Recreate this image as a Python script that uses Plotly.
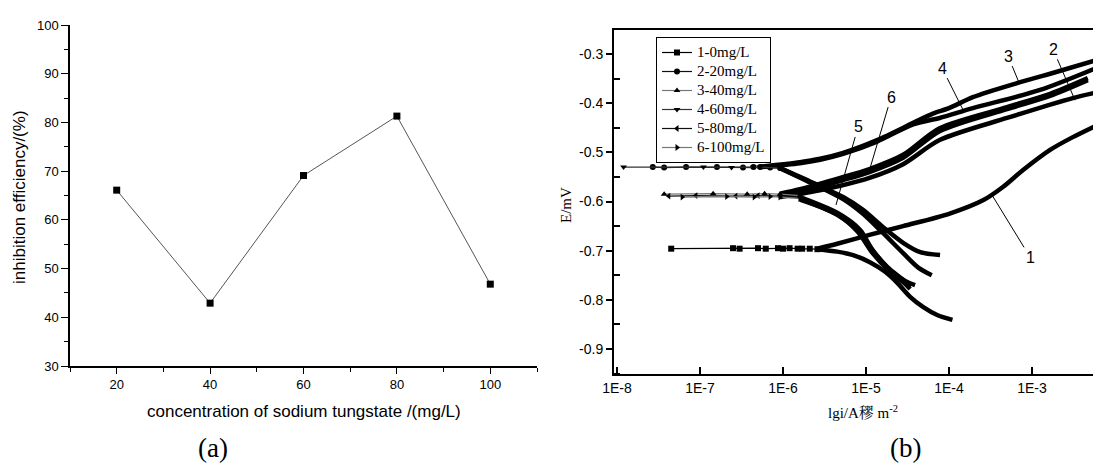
import numpy as np
import plotly.graph_objects as go

# ---------------- (a) inhibition efficiency ----------------
conc = [20, 40, 60, 80, 100]
efficiency = [66.1, 42.9, 69.1, 81.3, 46.8]

# ---------------- (b) polarization curves ----------------
legend_names = ["1-0mg/L", "2-20mg/L", "3-40mg/L", "4-60mg/L", "5-80mg/L", "6-100mg/L"]
marker_symbols = ["square", "circle", "triangle-up", "triangle-down", "triangle-left", "triangle-right"]
legend_line_colors = ["#000000", "#111111", "#777777", "#333333", "#111111", "#777777"]

# curve 1 (0 mg/L)
c1_cat_i = [1.1e-4, 7.2e-5, 4.9e-5, 3.4e-5, 2.4e-5, 1.7e-5, 1.1e-5, 7.0e-6, 4.5e-6, 2.6e-6]
c1_cat_E = [-0.841, -0.831, -0.815, -0.794, -0.766, -0.743, -0.723, -0.709, -0.702, -0.697]
c1_ano_i = [2.6e-6, 4.5e-6, 1.1e-5, 2.8e-5, 1.0e-4, 2.6e-4, 4.5e-4, 7.8e-4, 1.65e-3, 3.1e-3, 6.2e-3]
c1_ano_E = [-0.696, -0.686, -0.668, -0.650, -0.625, -0.597, -0.570, -0.536, -0.495, -0.469, -0.444]
c1_mk_i = [4.5e-8, 2.5e-7, 3.0e-7, 5.0e-7, 6.2e-7, 8.7e-7, 1.0e-6, 1.2e-6, 1.5e-6, 1.7e-6, 2.1e-6, 2.6e-6]
c1_mk_E = [-0.696, -0.695, -0.696, -0.695, -0.696, -0.695, -0.696, -0.695, -0.696, -0.696, -0.696, -0.697]

# curve 2 (20 mg/L)
c2_cat_i = [7.8e-5, 4.5e-5, 2.8e-5, 1.6e-5, 9.2e-6, 5.3e-6, 2.3e-6, 9.2e-7]
c2_cat_E = [-0.709, -0.703, -0.684, -0.652, -0.617, -0.591, -0.562, -0.532]
c2_ano_i = [5.3e-7, 1.6e-6, 2.8e-6, 5.3e-6, 1.36e-5, 3.7e-5, 6.4e-5, 1.0e-4, 1.94e-4, 6.6e-4, 2.0e-3, 6.1e-3]
c2_ano_E = [-0.529, -0.520, -0.513, -0.501, -0.475, -0.440, -0.421, -0.410, -0.3875, -0.359, -0.336, -0.312]
c2_mk_i = [2.7e-8, 3.7e-8, 6.8e-8, 1.6e-7, 3.3e-7, 4.4e-7, 5.3e-7, 7.0e-7, 9.2e-7]
c2_mk_E = [-0.530, -0.531, -0.530, -0.530, -0.531, -0.530, -0.530, -0.531, -0.532]

# curve 3 (40 mg/L)
c3_cat_i = [3.4e-5, 2.8e-5, 1.8e-5, 1.2e-5, 8.5e-6, 4.5e-6, 1.6e-6]
c3_cat_E = [-0.774, -0.760, -0.733, -0.699, -0.658, -0.623, -0.591]
c3_ano_i = [9.2e-7, 1.6e-6, 4.9e-6, 1.1e-5, 2.8e-5, 7.7e-5, 5.0e-4, 1.65e-3, 4.7e-3]
c3_ano_E = [-0.584, -0.575, -0.552, -0.534, -0.505, -0.451, -0.408, -0.381, -0.349]
c3_mk_i = [3.7e-8, 1.44e-7, 3.7e-7, 6.0e-7, 9.2e-7, 1.6e-6]
c3_mk_E = [-0.585, -0.584, -0.585, -0.584, -0.585, -0.588]

# curve 4 (60 mg/L)
c4_cat_i = [6.2e-5, 4.3e-5, 2.8e-5, 1.6e-5, 9.2e-6, 5.3e-6, 2.3e-6, 9.2e-7]
c4_cat_E = [-0.750, -0.735, -0.705, -0.664, -0.625, -0.595, -0.564, -0.532]
c4_ano_i = [5.3e-7, 1.6e-6, 2.8e-6, 5.3e-6, 1.36e-5, 3.7e-5, 7.7e-5, 1.94e-4, 1.25e-3, 6.4e-3]
c4_ano_E = [-0.530, -0.522, -0.515, -0.503, -0.478, -0.443, -0.430, -0.410, -0.373, -0.326]
c4_mk_i = [1.2e-8, 1.1e-7, 2.4e-7, 4.4e-7, 5.3e-7, 9.2e-7]
c4_mk_E = [-0.530, -0.530, -0.531, -0.530, -0.530, -0.532]

# curve 5 (80 mg/L)
c5_cat_i = [3.9e-5, 3.0e-5, 1.9e-5, 1.25e-5, 8.5e-6, 4.5e-6, 1.6e-6]
c5_cat_E = [-0.770, -0.762, -0.738, -0.703, -0.664, -0.627, -0.594]
c5_ano_i = [9.2e-7, 1.6e-6, 4.9e-6, 1.1e-5, 2.8e-5, 7.7e-5, 5.0e-4, 1.65e-3, 4.7e-3]
c5_ano_E = [-0.589, -0.581, -0.558, -0.540, -0.511, -0.457, -0.412, -0.385, -0.353]
c5_mk_i = [4.2e-8, 8.9e-8, 2.7e-7, 5.0e-7, 9.2e-7, 1.6e-6]
c5_mk_E = [-0.589, -0.588, -0.589, -0.588, -0.589, -0.592]

# curve 6 (100 mg/L)
c6_cat_i = [3.4e-5, 2.9e-5, 1.9e-5, 1.2e-5, 8.0e-6, 4.5e-6, 1.6e-6]
c6_cat_E = [-0.778, -0.766, -0.741, -0.705, -0.662, -0.626, -0.596]
c6_ano_i = [9.2e-7, 1.6e-6, 4.9e-6, 1.1e-5, 2.8e-5, 7.7e-5, 5.0e-4, 3.1e-3, 6.4e-3]
c6_ano_E = [-0.591, -0.585, -0.568, -0.552, -0.524, -0.475, -0.430, -0.3895, -0.377]
c6_mk_i = [6.1e-8, 2.1e-7, 4.5e-7, 7.0e-7, 9.2e-7, 1.6e-6]
c6_mk_E = [-0.591, -0.590, -0.591, -0.590, -0.591, -0.594]

# curve labels: text, tip current, tip potential
curve_label_text = ["1", "2", "3", "4", "5", "6"]
curve_label_i = [3.3e-4, 3.3e-3, 7.0e-4, 1.48e-4, 4.35e-6, 1.12e-5]
curve_label_E = [-0.587, -0.394, -0.359, -0.414, -0.607, -0.532]

x_tickvals = [1e-8, 1e-7, 1e-6, 1e-5, 1e-4, 1e-3]
x_ticktext = ["1E-8", "1E-7", "1E-6", "1E-5", "1E-4", "1E-3"]
y_tickvals = [-0.9, -0.8, -0.7, -0.6, -0.5, -0.4, -0.3]
y_ticktext = ["-0.9", "-0.8", "-0.7", "-0.6", "-0.5", "-0.4", "-0.3"]

curves = [
    (c1_cat_i, c1_cat_E, c1_ano_i, c1_ano_E, c1_mk_i, c1_mk_E),
    (c2_cat_i, c2_cat_E, c2_ano_i, c2_ano_E, c2_mk_i, c2_mk_E),
    (c3_cat_i, c3_cat_E, c3_ano_i, c3_ano_E, c3_mk_i, c3_mk_E),
    (c4_cat_i, c4_cat_E, c4_ano_i, c4_ano_E, c4_mk_i, c4_mk_E),
    (c5_cat_i, c5_cat_E, c5_ano_i, c5_ano_E, c5_mk_i, c5_mk_E),
    (c6_cat_i, c6_cat_E, c6_ano_i, c6_ano_E, c6_mk_i, c6_mk_E),
]

SANS = "Arial, Liberation Sans, sans-serif"
SERIF = "Times New Roman, Liberation Serif, Noto Serif CJK SC, Noto Sans CJK SC, serif"

# page offset of the figure inside the browser (default body margin)
OFF = 8
W, H = 1101 - OFF, 465 - OFF


def PX(px):
    return (px - OFF) / W


def PY(py):
    return 1 - (py - OFF) / H


fig = go.Figure()

# (a)
fig.add_trace(go.Scatter(
    x=conc, y=efficiency, mode="lines+markers",
    line=dict(color="#555555", width=1),
    marker=dict(symbol="square", size=7, color="black"),
    showlegend=False, xaxis="x", yaxis="y"))

# (b) thick branches
for k, (ci, cE, ai, aE, mi, mE) in enumerate(curves):
    fig.add_trace(go.Scatter(
        x=list(ci) + [None] + list(ai), y=list(cE) + [None] + list(aE),
        mode="lines", line=dict(color="black", width=4.5, shape="spline", smoothing=0.8),
        connectgaps=False, showlegend=False, hoverinfo="skip",
        xaxis="x2", yaxis="y2"))

# (b) near-Ecorr marker segments (legend entries)
for k, (ci, cE, ai, aE, mi, mE) in enumerate(curves):
    fig.add_trace(go.Scatter(
        x=mi, y=mE, mode="lines+markers",
        name='<span style="font-size:15px">' + legend_names[k] + "</span>",
        line=dict(color=legend_line_colors[k], width=1.2),
        marker=dict(symbol=marker_symbols[k], size=6, color="black"),
        showlegend=True, xaxis="x2", yaxis="y2"))

annotations = []
label_offsets_ax = [38, -22, -11, -21, 22, 21]
label_offsets_ay = [62, -51, -27, -42, -78, -71]
for t, li, lE, ax, ay in zip(curve_label_text, curve_label_i, curve_label_E,
                             label_offsets_ax, label_offsets_ay):
    annotations.append(dict(
        x=np.log10(li), y=lE, xref="x2", yref="y2", text=t,
        showarrow=True, arrowhead=0, arrowwidth=1, arrowcolor="black",
        ax=ax, ay=ay, standoff=0, font=dict(family=SANS, size=16, color="black")))


def label(px, py, text, family, size, angle=0):
    return dict(x=PX(px), y=PY(py), xref="paper", yref="paper", text=text,
                textangle=angle, showarrow=False, xanchor="center", yanchor="middle",
                font=dict(family=family, size=size, color="black"))


annotations += [
    label(19, 197, "inhibition efficiency/(%)", SANS, 17, -90),
    label(304, 411, "concentration of sodium tungstate /(mg/L)", SANS, 17),
    label(566, 205, "E/mV", SERIF, 15, -90),
    label(863, 412, "lgi/A穋 m<sup>-2</sup>", SERIF, 15),
    label(213, 448, "(a)", SERIF, 27),
    label(905, 448, "(b)", SERIF, 27),
]

fig.update_layout(
    width=W, height=H,
    margin=dict(l=0, r=0, t=0, b=0, autoexpand=False),
    paper_bgcolor="white", plot_bgcolor="white",
    showlegend=True,
    legend=dict(x=PX(656), y=PY(37), xanchor="left", yanchor="top",
                bgcolor="white", bordercolor="black", borderwidth=1,
                font=dict(family=SERIF, size=11.2, color="black"),
                tracegroupgap=0, itemwidth=30),
    xaxis=dict(domain=[PX(70), PX(537)], range=[10, 110], anchor="y",
               tick0=20, dtick=20, ticks="outside", ticklen=6, tickwidth=1.3,
               tickcolor="black", showline=True, linecolor="black", linewidth=1.5,
               showgrid=False, zeroline=False, automargin=False,
               tickfont=dict(family=SANS, size=13, color="black"),
               minor=dict(tick0=10, dtick=10, ticks="outside", ticklen=4,
                          tickcolor="black", tickwidth=1.2, showgrid=False)),
    yaxis=dict(domain=[PY(366), PY(25)], range=[30, 100], anchor="x",
               tick0=30, dtick=10, ticks="outside", ticklen=7, tickwidth=1.3,
               tickcolor="black", showline=True, linecolor="black", linewidth=1.5,
               showgrid=False, zeroline=False, automargin=False,
               tickfont=dict(family=SANS, size=13, color="black"),
               minor=dict(tick0=35, dtick=10, ticks="outside", ticklen=4,
                          tickcolor="black", tickwidth=1.2, showgrid=False)),
    xaxis2=dict(domain=[PX(614), 1.0], type="log", range=[-8.036, -2.169],
                anchor="y2", tickvals=x_tickvals, ticktext=x_ticktext,
                ticks="inside", ticklen=7, tickwidth=1.5, tickcolor="black",
                showline=True, linecolor="black", linewidth=2, mirror=True,
                showgrid=False, zeroline=False, automargin=False,
                tickfont=dict(family=SANS, size=14, color="black")),
    yaxis2=dict(domain=[PY(374), PY(30)], range=[-0.951, -0.251],
                anchor="x2", tickvals=y_tickvals, ticktext=y_ticktext,
                ticks="outside", ticklen=6, tickwidth=1.5, tickcolor="black",
                showline=True, linecolor="black", linewidth=2,
                showgrid=False, zeroline=False, automargin=False,
                tickfont=dict(family=SANS, size=14, color="black"),
                minor=dict(tick0=-0.95, dtick=0.1, ticks="inside", ticklen=6,
                           tickcolor="black", tickwidth=1.5, showgrid=False)),
    annotations=annotations,
)

fig.write_html("out.html")
